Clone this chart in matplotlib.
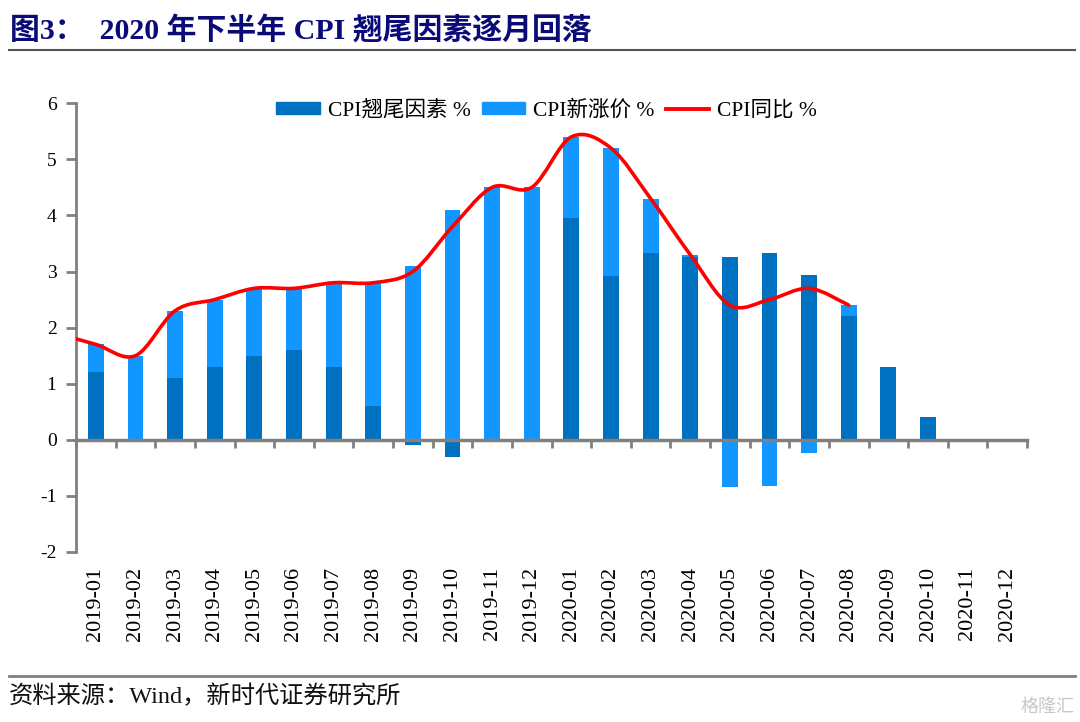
import numpy as np
import matplotlib
matplotlib.use("Agg")
import matplotlib.pyplot as plt
from matplotlib.path import Path
from matplotlib.patches import PathPatch, Patch
from matplotlib.lines import Line2D

plt.rcParams['font.family'] = ['Liberation Serif', 'Noto Sans CJK SC', 'DejaVu Sans']

months = ['2019-01', '2019-02', '2019-03', '2019-04', '2019-05', '2019-06',
          '2019-07', '2019-08', '2019-09', '2019-10', '2019-11', '2019-12',
          '2020-01', '2020-02', '2020-03', '2020-04', '2020-05', '2020-06',
          '2020-07', '2020-08', '2020-09', '2020-10', '2020-11', '2020-12']
tail = [1.2, 0.0, 1.1, 1.3, 1.5, 1.6, 1.3, 0.6, -0.1, -0.3, 0.0, 0.0,
        3.95, 2.92, 3.33, 3.25, 3.25, 3.33, 2.93, 2.2, 1.3, 0.4, 0.0, 0.0]
new = [0.5, 1.5, 1.2, 1.2, 1.2, 1.1, 1.5, 2.2, 3.1, 4.1, 4.5, 4.5,
       1.45, 2.28, 0.97, 0.05, -0.85, -0.83, -0.23, 0.2, 0.0, 0.0, 0.0, 0.0]
# CPI y/y, first value is 2018-12 (drawn just left of the axis, clipped)
cpi_prev = 1.9
cpi = [1.7, 1.5, 2.3, 2.5, 2.7, 2.7, 2.8, 2.8, 3.0, 3.8, 4.5, 4.5,
       5.4, 5.2, 4.3, 3.3, 2.4, 2.5, 2.7, 2.4]

dark = '#0070C0'
light = '#1296FF'
grey = '#808080'

fig = plt.figure(figsize=(10.8, 7.22), dpi=100)
ax = fig.add_axes([0.0704, 0.2355, 0.8806, 0.6215])

x = np.arange(len(months))
tail_a = np.array(tail)
new_a = np.array(new)
# excel style stacking: positives on positives, negatives on negatives
bottom = np.where((tail_a > 0) & (new_a > 0), tail_a, 0.0)
bottom = np.where((tail_a < 0) & (new_a < 0), tail_a, bottom)

w = 0.4
ax.bar(x, tail_a, width=w, color=dark, zorder=2)
ax.bar(x, new_a, width=w, bottom=bottom, color=light, zorder=2)

# smoothed line (bezier through the points)
xs = np.arange(-1, len(cpi))
ys = np.array([cpi_prev] + cpi)
pts = np.column_stack([xs, ys]).astype(float)
verts = [pts[0]]
codes = [Path.MOVETO]
n = len(pts)
for i in range(n - 1):
    p0 = pts[i - 1] if i > 0 else pts[i]
    p1 = pts[i]
    p2 = pts[i + 1]
    p3 = pts[i + 2] if i + 2 < n else pts[i + 1]
    c1 = p1 + (p2 - p0) / 6.0
    c2 = p2 - (p3 - p1) / 6.0
    verts += [c1, c2, p2]
    codes += [Path.CURVE4] * 3
ax.add_patch(PathPatch(Path(verts, codes), facecolor='none', edgecolor='#FF0000',
                       lw=2.6, zorder=3, capstyle='round', joinstyle='round'))

ax.set_xlim(-0.5, len(months) - 0.5)
ax.set_ylim(-2, 6)
ax.set_yticks(range(-2, 7))
ax.set_yticklabels([str(v) for v in range(-2, 7)], fontsize=14)

# category axis sits on zero, ticks between categories
ax.spines['bottom'].set_position(('data', 0))
ax.spines['bottom'].set_color(grey)
ax.spines['bottom'].set_linewidth(2.5)
ax.spines['bottom'].set_zorder(4)
ax.set_xticks(np.arange(-0.5, len(months)))
ax.set_xticklabels([])
ax.tick_params(axis='x', length=6, width=2, color=grey, direction='out')
ax.tick_params(axis='y', length=7, width=2, color=grey, direction='out', pad=7)
for i, m in enumerate(months):
    ax.text(i, -0.033, m, rotation=90, fontsize=16, ha='center', va='top',
            transform=ax.get_xaxis_transform())

for s in ['top', 'right']:
    ax.spines[s].set_visible(False)
ax.spines['left'].set_color(grey)
ax.spines['left'].set_linewidth(2)

handles = [Patch(color=dark), Patch(color=light), Line2D([], [], color='#FF0000', lw=2.8)]
labels = ['CPI翘尾因素 %', 'CPI新涨价 %', 'CPI同比 %']
ax.legend(handles, labels, loc='upper center', bbox_to_anchor=(0.495, 1.05), ncol=3,
          frameon=False, fontsize=15.5, handlelength=2.0, handleheight=0.5,
          columnspacing=0.5, handletextpad=0.4)

fig.text(0.009, 0.958, '图3：  2020 年下半年 CPI 翘尾因素逐月回落', fontsize=21.5,
         fontweight='bold', color='#0A0A78', va='center', ha='left')
fig.add_artist(Line2D([0.008, 0.995], [0.931, 0.931], color='#555555', lw=1.5))
fig.add_artist(Line2D([0.008, 0.995], [0.064, 0.064], color=grey, lw=2))
fig.text(0.008, 0.035, '资料来源：Wind，新时代证券研究所', fontsize=17.5,
         color='#111111', va='center', ha='left')
fig.text(0.995, 0.02, '格隆汇', fontsize=13, color='#c8c8c8', ha='right', va='center')

fig.savefig('out.png', dpi=100)
